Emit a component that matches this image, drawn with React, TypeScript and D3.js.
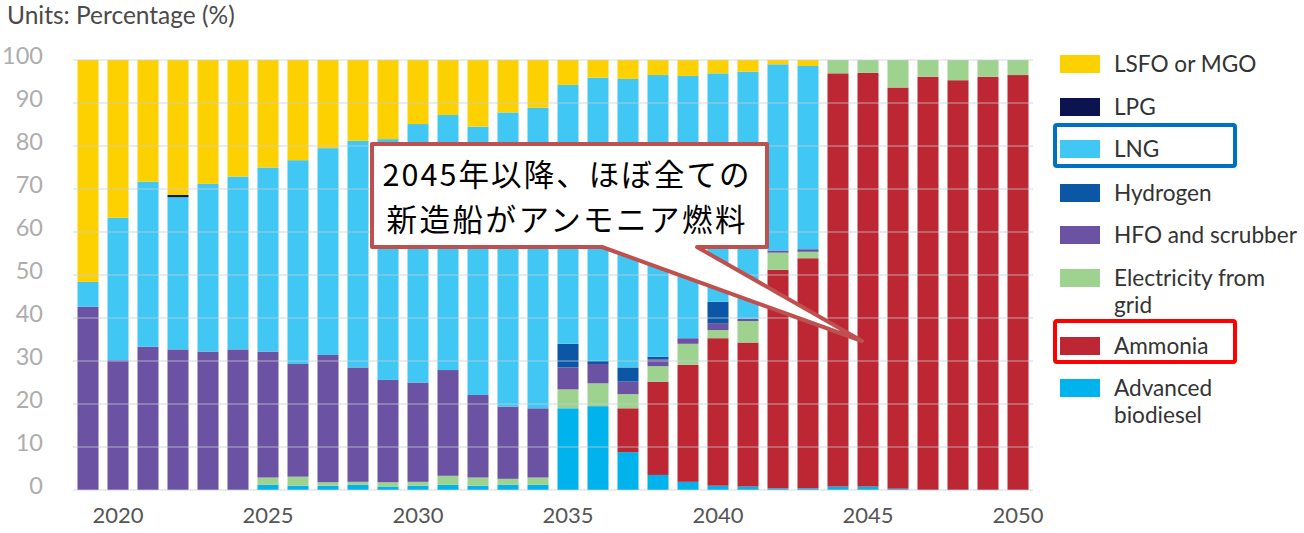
import React from "react";
import * as d3 from "d3";

const years = d3.range(2019, 2051).map(String);

// Values in % (bottom-to-top stacking order)
const advancedBiodiesel = [0, 0, 0, 0, 0, 0, 1.2, 1.0, 1.0, 1.2, 0.8, 1.0, 1.2, 1.0, 1.2, 1.2, 19.0, 19.5, 8.8, 3.5, 1.9, 1.0, 0.8, 0.4, 0.4, 0.8, 0.8, 0.3, 0, 0, 0, 0];
const ammonia = [0, 0, 0, 0, 0, 0, 0, 0, 0, 0, 0, 0, 0, 0, 0, 0, 0, 0, 10.2, 21.7, 27.2, 34.3, 33.5, 50.8, 53.5, 96.1, 96.2, 93.3, 96.1, 95.3, 96.1, 96.5];
const electricity = [0, 0, 0, 0, 0, 0, 1.7, 2.1, 0.8, 0.7, 1.0, 0.9, 2.1, 1.9, 1.4, 1.7, 4.4, 5.3, 3.3, 3.6, 4.9, 1.9, 5.0, 4.0, 1.5, 3.1, 3.0, 6.4, 3.9, 4.7, 3.9, 3.5];
const hfoScrubber = [42.6, 30.2, 33.3, 32.7, 32.2, 32.7, 29.3, 26.2, 29.6, 26.6, 23.8, 23.1, 24.6, 19.2, 16.8, 16.1, 5.1, 4.5, 2.9, 1.6, 1.3, 1.6, 0.5, 0.5, 0.6, 0, 0, 0, 0, 0, 0, 0];
const hydrogen = [0, 0, 0, 0, 0, 0, 0, 0, 0, 0, 0, 0, 0, 0, 0, 0, 5.5, 0.7, 3.3, 0.6, 0, 5.0, 0, 0, 0, 0, 0, 0, 0, 0, 0, 0];
const lng = [5.8, 33.1, 38.4, 35.4, 39.0, 40.2, 42.8, 47.4, 48.1, 52.7, 56.0, 60.1, 59.3, 62.4, 68.4, 69.9, 60.2, 65.9, 67.1, 65.5, 61.0, 53.1, 57.5, 43.3, 42.6, 0, 0, 0, 0, 0, 0, 0];
const lpg = [0, 0, 0, 0.5, 0, 0, 0, 0, 0, 0, 0, 0, 0, 0, 0, 0, 0, 0, 0, 0, 0, 0, 0, 0, 0, 0, 0, 0, 0, 0, 0, 0];
const lsfoMgo = [51.6, 36.7, 28.3, 31.4, 28.8, 27.1, 25.0, 23.3, 20.5, 18.8, 18.4, 14.9, 12.8, 15.5, 12.2, 11.1, 5.8, 4.1, 4.4, 3.5, 3.7, 3.1, 2.7, 1.0, 1.4, 0, 0, 0, 0, 0, 0, 0];

const seriesKeys = ["adv", "amm", "elec", "hfo", "h2", "lng", "lpg", "lsfo"];
const seriesLabels: Record<string, string[]> = {
  lsfo: ["LSFO or MGO"],
  lpg: ["LPG"],
  lng: ["LNG"],
  h2: ["Hydrogen"],
  hfo: ["HFO and scrubber"],
  elec: ["Electricity from", "grid"],
  amm: ["Ammonia"],
  adv: ["Advanced", "biodiesel"],
};
const seriesColors: Record<string, string> = {
  lsfo: "#FDD000",
  lpg: "#0B1450",
  lng: "#40C7F4",
  h2: "#0B57A6",
  hfo: "#6C52A2",
  elec: "#9ED28F",
  amm: "#BD2733",
  adv: "#00B3EC",
};
const legendOrder = ["lsfo", "lpg", "lng", "h2", "hfo", "elec", "amm", "adv"];
const legendY = [64, 107, 149, 193, 235, 278, 346, 388];

const yTicks = [0, 10, 20, 30, 40, 50, 60, 70, 80, 90, 100];
const xTickYears = ["2020", "2025", "2030", "2035", "2040", "2045", "2050"];

const calloutLines = ["2045年以降、ほぼ全ての", "新造船がアンモニア燃料"];
const calloutWidths = [367, 359];

const rows = years.map((year, i) => ({
  year,
  adv: advancedBiodiesel[i],
  amm: ammonia[i],
  elec: electricity[i],
  hfo: hfoScrubber[i],
  h2: hydrogen[i],
  lng: lng[i],
  lpg: lpg[i],
  lsfo: lsfoMgo[i],
}));

const W = 1304;
const H = 533;
const FONT = "Lato, 'Open Sans', sans-serif";

export default function App() {
  const x = d3.scaleBand<string>().domain(years).range([73, 1033]).paddingInner(0.3).paddingOuter(0.15);
  const y = d3.scaleLinear().domain([0, 100]).range([490, 60]);
  const stacked = d3.stack<any>().keys(seriesKeys)(rows as any);

  // callout geometry
  const bx0 = 372, bx1 = 767, by0 = 144, by1 = 247;
  const wedgeL = 602, wedgeR = 697, tipX = 862, tipY = 341;
  const calloutPath = `M${bx0},${by0} L${bx1},${by0} L${bx1},${by1} L${wedgeR},${by1} L${tipX},${tipY} L${wedgeL},${by1} L${bx0},${by1} Z`;

  return (
    <div style={{ position: "absolute", left: 0, top: 0 }}>
      <svg width={W} height={H} style={{ display: "block", background: "#fff" }}>
        <text x={7} y={24} fontFamily={FONT} fontSize={24.5} fill="#4a4a4a">Units: Percentage (%)</text>

        {/* bars */}
        {stacked.map((s) => (
          <g key={s.key} fill={seriesColors[s.key]}>
            {s.map((d: any, i: number) =>
              d[1] - d[0] > 0 ? (
                <rect key={i} x={x(years[i])} width={x.bandwidth()} y={y(d[1])} height={y(d[0]) - y(d[1])} />
              ) : null
            )}
          </g>
        ))}

        {/* gridlines over bars */}
        {yTicks.map((t) => (
          <line key={t} x1={73} x2={1033} y1={y(t)} y2={y(t)} stroke="#c6ccd6" strokeOpacity={0.75} strokeWidth={1.2} />
        ))}

        {/* y tick labels */}
        {yTicks.map((t) => (
          <text key={t} x={43} y={y(t) + 4} textAnchor="end" fontFamily={FONT} fontSize={23.5} fill="#adadad">{t}</text>
        ))}

        {/* x tick labels */}
        {xTickYears.map((yr) => (
          <text key={yr} x={(x(yr) as number) + x.bandwidth() / 2} y={523} textAnchor="middle" fontFamily={FONT} fontSize={22} fill="#555">{yr}</text>
        ))}

        {/* legend */}
        {legendOrder.map((k, i) => (
          <g key={k}>
            <rect x={1060} y={legendY[i] - 9} width={40} height={18} fill={seriesColors[k]} />
            {seriesLabels[k].map((line, j) => (
              <text key={j} x={1114} y={legendY[i] + 8 + j * 27} fontFamily={FONT} fontSize={22.6} fill="#333">{line}</text>
            ))}
          </g>
        ))}
        <rect x={1055} y={125} width={180} height={41} rx={2} fill="none" stroke="#0070C0" strokeWidth={4} />
        <rect x={1055} y={321} width={180} height={41} rx={2} fill="none" stroke="#FF0000" strokeWidth={4} />

        {/* callout */}
        <path d={calloutPath} fill="#fff" stroke="#C0504D" strokeWidth={4} strokeLinejoin="round" />
        {calloutLines.map((line, i) => (
          <text key={i} x={566} y={186 + i * 44.5} textAnchor="middle" textLength={calloutWidths[i]} lengthAdjust="spacing"
            fontFamily="'Noto Sans CJK JP', sans-serif" fontSize={30.5} fill="#000">{line}</text>
        ))}
      </svg>
    </div>
  );
}
